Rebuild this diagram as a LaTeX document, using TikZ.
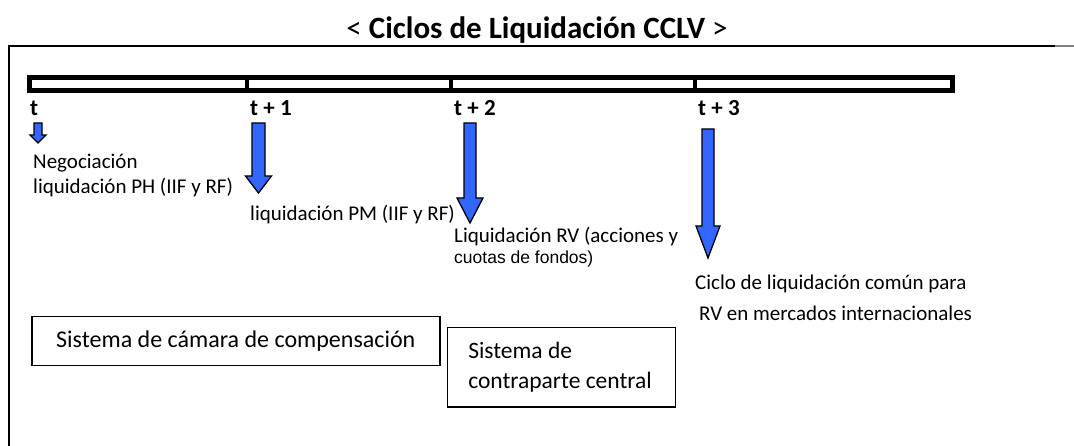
\documentclass[tikz,border=0pt]{standalone}
\usepackage{fontspec}
\setmainfont{Carlito}
\newfontfamily\arialfont{Liberation Sans}
\usepackage{tikz}
\usetikzlibrary{positioning}

\definecolor{arrowblue}{RGB}{51,102,255}

\tikzset{
    lbl/.style={anchor=west, inner sep=0pt, font=\fontsize{21}{25}\selectfont},
    daylbl/.style={anchor=west, inner sep=0pt, font=\bfseries\fontsize{23}{27}\selectfont},
    sysbox/.style={draw, line width=1.5pt, inner sep=0pt, font=\fontsize{24}{30}\selectfont},
    blockarr/.style={draw=black, line width=1.3pt, fill=arrowblue, line join=miter},
}

\begin{document}
\begin{tikzpicture}[x=1pt, y=-1pt]

    \useasboundingbox (0,0) rectangle (1074,446);

    \node(title)[inner sep=0pt, font=\fontsize{31}{35}\selectfont] at (537,30)
        {< \textbf{Ciclos de Liquidación CCLV} >};

    % frame
    \draw[line width=2pt] (9,446) -- (9,46) -- (1055,46);
    \draw[line width=1.5pt, gray] (1055,46) -- (1074,46);

    % time line
    \draw[line width=5pt] (29.5,77.5) rectangle (952.5,90.5);
    \foreach \x in {247,451,695}
        \draw[line width=4pt] (\x,77.5) -- (\x,90.5);

    \node(t0)[daylbl] at (30,108) {t};
    \node(t1)[daylbl] at (250,108) {t + 1};
    \node(t2)[daylbl] at (454,108) {t + 2};
    \node(t3)[daylbl] at (698,108) {t + 3};

    % arrows: x / top / neck / tip / half shaft / half head
    \foreach \x/\top/\neck/\tip/\sw/\hw in {38/123/135/143/4/8, 258.5/123/176/193/6.5/13,
                                              470/123/198/223/6/13, 708/129/226/258/6/12}
        \draw[blockarr] (\x-\sw,\top) -- (\x+\sw,\top) -- (\x+\sw,\neck) -- (\x+\hw,\neck)
                        -- (\x,\tip) -- (\x-\hw,\neck) -- (\x-\sw,\neck) -- cycle;

    \node(neg)[lbl] at (33,163) {Negociación};
    \node(ph)[lbl] at (33,188) {liquidación PH (IIF y RF)};
    \node(pm)[lbl] at (250,215) {liquidación PM (IIF y RF)};
    \node(rv)[lbl] at (454,237) {Liquidación RV (acciones y};
    \node(fondos)[lbl, font=\arialfont\fontsize{17.5}{20}\selectfont] at (454,259) {cuotas de fondos)};
    \node(ciclo)[lbl] at (695,284) {Ciclo de liquidación común para};
    \node(intl)[lbl] at (699,313) {RV en mercados internacionales};

    \node(camara)[sysbox, anchor=north west, minimum width=408pt, minimum height=49pt] at (31,316)
        {Sistema de cámara de compensación};
    \node(ccp)[sysbox, font=\fontsize{23.5}{30}\selectfont, minimum width=228pt, minimum height=79pt,
               inner xsep=21pt, text width=186pt, align=flush left,
               right=6pt of camara.north east, anchor=north west, yshift=-11pt]
        {Sistema de\\contraparte central};

\end{tikzpicture}
\end{document}
